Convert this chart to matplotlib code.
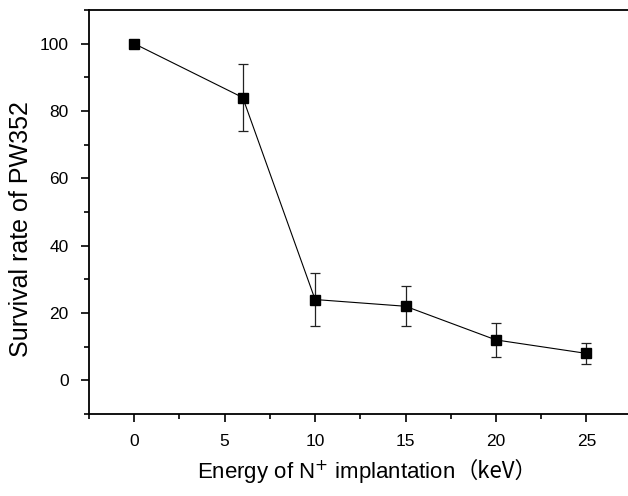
import matplotlib
matplotlib.use("Agg")
import matplotlib.pyplot as plt
from matplotlib.ticker import MultipleLocator

plt.rcParams['font.family'] = ['Liberation Sans', 'Noto Sans CJK SC', 'DejaVu Sans']
plt.rcParams['mathtext.fontset'] = 'custom'
plt.rcParams['mathtext.rm'] = 'Liberation Sans'
plt.rcParams['mathtext.default'] = 'regular'

energy = [0, 6, 10, 15, 20, 25]
survival = [100, 84, 24, 22, 12, 8]
errors = [0, 10, 8, 6, 5, 3]
xticks = [0, 5, 10, 15, 20, 25]
yticks = [0, 20, 40, 60, 80, 100]

fig = plt.figure(figsize=(6.28, 4.96), dpi=100)
ax = fig.add_axes([89/628, 82/496, 1 - 89/628, 404/496])

ax.errorbar(energy, survival, yerr=errors, fmt='s-', color='black',
            ecolor='#222222', elinewidth=0.9, capsize=3.5, capthick=0.9,
            markersize=7, linewidth=0.8)

ax.set_xlim(-2.5, 27.3)
ax.set_ylim(-10, 110)
ax.set_xticks(xticks)
ax.set_yticks(yticks)
ax.xaxis.set_minor_locator(MultipleLocator(2.5))
ax.yaxis.set_minor_locator(MultipleLocator(10))
ax.tick_params(which='major', direction='out', length=5.5, width=1.2,
               labelsize=12.5, pad=9)
ax.tick_params(which='minor', direction='out', length=3.3, width=1.2)
ax.tick_params(top=False, right=False, which='both')
ax.spines['right'].set_visible(False)
for s in ['left', 'bottom', 'top']:
    ax.spines[s].set_linewidth(1.3)

ax.set_ylabel('Survival rate of PW352', fontsize=18)
ax.yaxis.set_label_coords(-0.103, 0.458)

t1 = ax.text(0.44, -0.11, 'Energy of N$^{\\mathsf{+}}$ implantation', transform=ax.transAxes,
             ha='center', va='top', fontsize=16)
t2 = ax.annotate('（keV）', xy=(1, 0), xycoords=t1, xytext=(0, 2.5),
                 textcoords='offset points', ha='left', va='bottom', fontsize=16,
                 family=['Noto Sans CJK SC', 'Liberation Sans'])

fig.savefig('out.png', dpi=100)
